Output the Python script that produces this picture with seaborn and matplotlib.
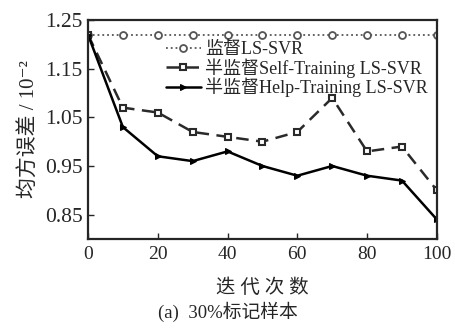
import matplotlib
matplotlib.use("Agg")
import matplotlib.pyplot as plt
import seaborn as sns
import pandas as pd

iters = [0, 10, 20, 30, 40, 50, 60, 70, 80, 90, 100]
supervised = [1.22] * 11
self_training = [1.22, 1.07, 1.06, 1.02, 1.01, 1.00, 1.02, 1.09, 0.98, 0.99, 0.90]
help_training = [1.22, 1.03, 0.97, 0.96, 0.98, 0.95, 0.93, 0.95, 0.93, 0.92, 0.84]
labels = ["监督LS-SVR", "半监督Self-Training LS-SVR", "半监督Help-Training LS-SVR"]
yticks = [0.85, 0.95, 1.05, 1.15, 1.25]
xticks = [0, 20, 40, 60, 80, 100]

sns.set_style("ticks")
fam = ["Liberation Serif", "Noto Sans CJK SC", "DejaVu Serif"]
plt.rcParams["font.family"] = fam
plt.rcParams["xtick.direction"] = "in"
plt.rcParams["ytick.direction"] = "in"

fig = plt.figure(figsize=(4.56, 3.3), dpi=100)
ax = fig.add_axes([0.193, 0.276, 0.765, 0.663])

df = pd.DataFrame({"x": iters, "sup": supervised, "self": self_training, "help": help_training})

sns.lineplot(data=df, x="x", y="sup", ax=ax, color="#555555", linestyle=":", linewidth=1.3,
             marker="o", markersize=5, markerfacecolor="white", markeredgecolor="#555555",
             markeredgewidth=1.3, label=labels[0])
sns.lineplot(data=df, x="x", y="self", ax=ax, color="#2a2a2a", linestyle=(0, (5, 3)), linewidth=1.8,
             marker="s", markersize=5, markerfacecolor="white", markeredgecolor="#2a2a2a",
             markeredgewidth=1.5, label=labels[1])
sns.lineplot(data=df, x="x", y="help", ax=ax, color="black", linestyle="-", linewidth=1.8,
             marker=">", markersize=4, markerfacecolor="black", markeredgecolor="black",
             label=labels[2])

ax.set_xlim(0, 100)
ax.set_ylim(0.80, 1.245)
ax.set_xticks(xticks)
ax.set_yticks(yticks)
ax.set_yticklabels([f"{v:.2f}" for v in yticks])
ax.tick_params(axis="y", labelsize=15.5, length=4, width=1, right=False, pad=4)
ax.tick_params(axis="x", labelsize=14, length=4, width=1, top=False, pad=5)
for s in ax.spines.values():
    s.set_linewidth(1.6)
    s.set_visible(True)

ax.set_xlabel("迭 代 次 数", fontsize=14, labelpad=11)
ax.set_ylabel("均方误差 / 10⁻²", fontsize=15, labelpad=4)

leg = ax.legend(loc="upper right", bbox_to_anchor=(1.0, 0.945), frameon=False, fontsize=13,
                handlelength=1.9, handletextpad=0.25, labelspacing=0.0, borderaxespad=0.1)

fig.text(0.5, 0.055, "(a)  30%标记样本", ha="center", va="center", fontsize=13.5, family=fam)

fig.savefig("out.png", dpi=100)
